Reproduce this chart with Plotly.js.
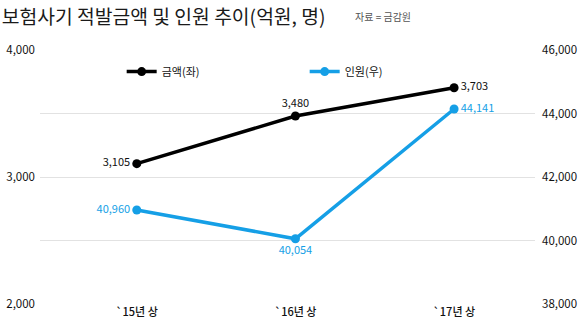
<!DOCTYPE html>
<html><head><meta charset="utf-8">
<script src="https://cdn.plot.ly/plotly-3.0.1.min.js"></script>
<style>body{margin:0;background:#fff}#c{width:580px;height:325px}</style>
</head><body><div id="c"></div>
<script>
const categories = ["`15년 상", "`16년 상", "`17년 상"];
const amount = [3105, 3480, 3703];
const people = [40960, 40054, 44141];
const amountName = "금액(좌)";
const peopleName = "인원(우)";
const leftTicks = [2000, 3000, 4000];
const rightTicks = [38000, 40000, 42000, 44000, 46000];

const FONT = "'Noto Sans CJK KR', 'Noto Sans', sans-serif";
const BLUE = "#159fe6";
const fmt = v => v.toLocaleString("en-US");

const traces = [
  {x: categories, y: amount, name: amountName, type: "scatter", mode: "lines+markers+text",
   line: {color: "#000", width: 3.5}, marker: {color: "#000", size: 9},
   text: amount.map(fmt), textposition: ["middle left", "top center", "middle right"],
   textfont: {family: FONT, size: 11, color: "#111"}, cliponaxis: false, yaxis: "y"},
  {x: categories, y: people, name: peopleName, type: "scatter", mode: "lines+markers+text",
   line: {color: BLUE, width: 3.5}, marker: {color: BLUE, size: 9},
   text: people.map(fmt), textposition: ["middle left", "bottom center", "middle right"],
   textfont: {family: FONT, size: 11, color: BLUE}, cliponaxis: false, yaxis: "y2"}
];

const layout = {
  width: 580, height: 325,
  margin: {l: 40, r: 45, t: 50, b: 21},
  paper_bgcolor: "#fff", plot_bgcolor: "#fff",
  font: {family: FONT, color: "#111", size: 11},
  title: {text: "보험사기 적발금액 및 인원 추이(억원, 명)", x: 0.003, xanchor: "left", y: 0.948, yanchor: "middle",
          font: {family: FONT, size: 19.3, color: "#1a1a1a"}},
  showlegend: true,
  legend: {orientation: "h", x: 0.165, xanchor: "left", y: 0.915, yanchor: "middle",
           entrywidth: 138, entrywidthmode: "pixels", itemwidth: 30,
           font: {family: FONT, size: 11, color: "#111"}, bgcolor: "rgba(0,0,0,0)"},
  xaxis: {type: "category", range: [-0.61, 2.51], showgrid: false, zeroline: false, showline: false,
          ticks: "", tickfont: {family: FONT, size: 11, color: "#111", weight: 500}, fixedrange: true},
  yaxis: {range: [2000, 4000], tickvals: leftTicks, tickformat: ",d", showgrid: false, zeroline: false,
          showline: false, ticks: "", ticklabelstandoff: 4, tickfont: {family: FONT, size: 11.5, color: "#111"}},
  yaxis2: {range: [38000, 46000], tickvals: rightTicks, tickformat: ",d", overlaying: "y", side: "right",
           showgrid: true, gridcolor: "#e2e2e2", gridwidth: 1, zeroline: false, showline: false, ticks: "",
           ticklabelstandoff: 6, tickfont: {family: FONT, size: 11.5, color: "#111"}},
  annotations: [{text: "자료 = 금감원", xref: "paper", yref: "paper", x: 0.632, y: 1.13, xanchor: "left",
                 yanchor: "middle", showarrow: false, font: {family: FONT, size: 10, color: "#555"}}]
};
Plotly.newPlot("c", traces, layout, {displayModeBar: false, staticPlot: true});
</script></body></html>
